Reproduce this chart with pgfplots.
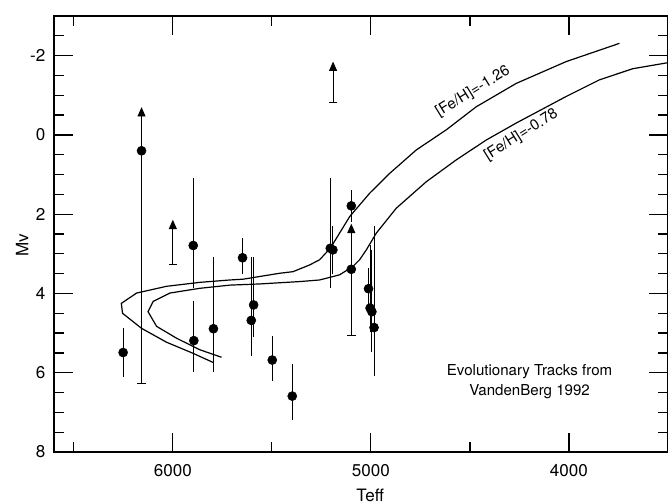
\documentclass[border=0pt]{standalone}
\usepackage{pgfplots}
\pgfplotsset{compat=1.18}
\usepackage{pgfplotstable}
\usepackage{fontspec}
\setmainfont{TeX Gyre Heros}
\usetikzlibrary{arrows.meta}

\newcommand\fs{\fontsize{11.3}{15}\selectfont}
\newcommand\ft{\fontsize{12.8}{15}\selectfont}

% Stars with measured magnitudes: Teff, Mv, error toward brighter (lo), toward fainter (hi)
\pgfplotstableread{
T    Mv   lo   hi
6251 5.49 0.50 0.50
5897 2.79 1.59 0.97
5894 5.19 0.90 0.69
5795 4.89 1.70 0.99
5648 3.10 0.39 0.29
5592 4.29 1.10 0.69
5604 4.68 1.49 0.79
5498 5.68 0.49 0.42
5397 6.59 0.71 0.50
5205 2.86 1.66 0.90
5192 2.90 0.50 0.49
5099 1.79 0.29 0.29
5012 3.88 0.41 0.30
5004 4.37 1.49 0.50
4995 4.46 1.46 0.90
4984 4.86 2.46 1.11
}\errdata

% Stars whose range is open toward brighter magnitudes: Teff, Mv (dot)
\pgfplotstableread{
T    Mv
6158 0.40
5099 3.39
}\limdata

% VandenBerg (1992) isochrones
\pgfplotstableread{
T    Mv
5797 5.74
5898 5.51
6032 5.23
6158 4.88
6254 4.50
6260 4.25
6183 3.99
6032 3.82
5864 3.72
5712 3.66
5645 3.64
5460 3.49
5393 3.45
5309 3.28
5259 3.15
5205 2.86
5107 2.06
5006 1.47
4905 0.97
4771 0.38
4619 -0.13
4468 -0.71
4266 -1.30
4014 -1.85
3745 -2.31
}\trackA

\pgfplotstableread{
T    Mv
5754 5.61
5864 5.42
5981 5.13
6082 4.83
6125 4.46
6099 4.20
6015 3.99
5864 3.87
5712 3.79
5561 3.76
5359 3.70
5259 3.66
5158 3.53
5091 3.32
5057 3.15
5023 2.90
4973 2.48
4872 1.85
4720 1.18
4569 0.63
4418 0.13
4266 -0.30
4014 -0.97
3846 -1.39
3678 -1.67
3503 -1.82
}\trackB

\begin{document}
\begin{tikzpicture}
\begin{axis}[
  scale only axis,
  width=460.5pt, height=327pt,
  xmin=3500, xmax=6600, x dir=reverse,
  ymin=-3, ymax=8, y dir=reverse,
  xtick={4000,5000,6000},
  minor xtick={4500,5500,6500},
  ytick={-2,0,2,4,6,8},
  minor ytick={-2.5,-1.5,-1,-0.5,0.5,1,1.5,2.5,3,3.5,4.5,5,5.5,6.5,7,7.5},
  major tick length=14pt, minor tick length=7.5pt,
  tick style={black, line width=0.9pt},
  axis line style={line width=0.9pt},
  tick label style={font=\ft},
  xticklabel style={yshift=-6pt},
  yticklabel style={xshift=-3pt},
  /pgf/number format/.cd, 1000 sep={}, assume math mode=true, /pgfplots/.cd,
  xlabel={Teff}, ylabel={Mv},
  label style={font=\ft},
  x label style={at={(axis description cs:0.515,-0.0986)}, anchor=center},
  y label style={at={(axis description cs:-0.052,0.475)}, anchor=center},
]
\coordinate (SW) at (rel axis cs:0,0);
\coordinate (NE) at (rel axis cs:1,1);

% isochrones
\addplot[black, line width=0.9pt, no markers] table[x=T, y=Mv] {\trackA};
\addplot[black, line width=0.9pt, no markers] table[x=T, y=Mv] {\trackB};

% limits: capped bar with an arrow toward brighter magnitudes
\addplot[black, line width=0.7pt, no markers, {Bar[width=6.4pt]}-{Triangle[width=6pt,length=7pt]}]
  coordinates {(6158,6.29) (6158,-0.70)};
\addplot[black, line width=0.7pt, no markers, {Bar[width=6.4pt]}-{Triangle[width=6pt,length=7pt]}]
  coordinates {(6000,3.28) (6000,2.14)};
\addplot[black, line width=0.7pt, no markers, {Bar[width=6.4pt]}-{Triangle[width=6pt,length=7pt]}]
  coordinates {(5191,-0.81) (5191,-1.85)};
\addplot[black, line width=0.7pt, no markers, {Bar[width=6.4pt]}-{Triangle[width=6pt,length=7pt]}]
  coordinates {(5099,5.07) (5099,2.24)};
\addplot[only marks, mark=*, mark size=3.4pt, black] table[x=T, y=Mv] {\limdata};

% measured stars with error bars
\addplot[only marks, mark=*, mark size=3.4pt, black,
  error bars/.cd, y dir=both, y explicit,
  error bar style={line width=0.7pt, black},
  error mark options={black, mark size=3.2pt, line width=0.7pt}]
  table[x=T, y=Mv, y error plus=hi, y error minus=lo] {\errdata};

\node[rotate=31.5, font=\fs] at (axis cs:4485,-1.09) {[Fe/H]=-1.26};
\node[rotate=32, font=\fs] at (axis cs:4241,0.0) {[Fe/H]=-0.78};
\node[align=center, font=\fs] at (axis cs:4199,6.22) {Evolutionary Tracks from\\VandenBerg 1992};
\end{axis}
\pgfresetboundingbox
\path ([xshift=-40.5pt,yshift=-38.25pt]SW) rectangle ([yshift=12pt]NE);
\end{tikzpicture}
\end{document}
